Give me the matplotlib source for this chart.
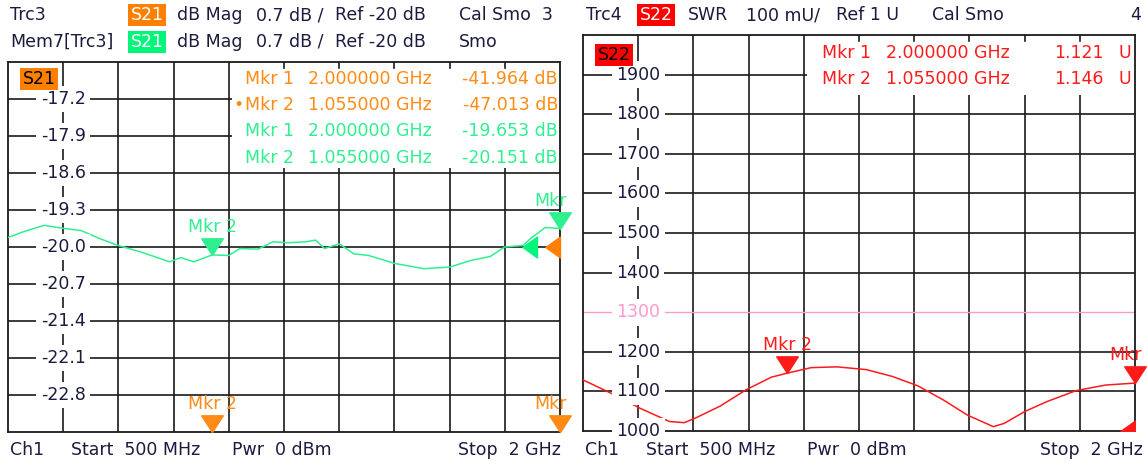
import numpy as np
import matplotlib.pyplot as plt
import matplotlib.patches as mpatches
from matplotlib.path import Path
from matplotlib.transforms import offset_copy

plt.rcParams['font.family'] = ['DejaVu Sans']

W, H = 1147, 466
FS = 12.5

# Mem7[Trc3] S21 trace (GHz, dB)
mem7_freq = [0.5, 0.538, 0.598, 0.653, 0.699, 0.749, 0.799, 0.859, 0.939, 0.97, 1.005,
             1.055, 1.1, 1.13, 1.18, 1.22, 1.26, 1.31, 1.336, 1.36, 1.40, 1.44, 1.48,
             1.55, 1.63, 1.70, 1.76, 1.81, 1.85, 1.90, 1.92, 1.96, 2.0]
mem7_db = [-19.82, -19.72, -19.59, -19.65, -19.69, -19.84, -19.97, -20.09, -20.28, -20.20, -20.28,
           -20.15, -20.16, -20.03, -20.04, -19.90, -19.92, -19.90, -19.87, -20.03, -19.94, -20.13, -20.16,
           -20.31, -20.41, -20.38, -20.25, -20.18, -20.00, -19.97, -19.84, -19.63, -19.65]

# Trc4 S22 SWR trace (GHz, mU)
trc4_freq = [0.5, 0.577, 0.656, 0.735, 0.775, 0.804, 0.873, 0.943, 1.012, 1.055, 1.12, 1.19,
             1.27, 1.34, 1.41, 1.48, 1.545, 1.615, 1.644, 1.70, 1.76, 1.84, 1.92, 2.0]
trc4_mu = [1129, 1095, 1057, 1024, 1021, 1032, 1063, 1104, 1136, 1146, 1160, 1162,
           1155, 1138, 1114, 1078, 1040, 1011, 1019, 1049, 1074, 1102, 1116, 1121]

# markers
mkr_names = ['Mkr 1', 'Mkr 2']
mkr_freq = [2.0, 1.055]
trc3_mkr_db = [-41.964, -47.013]
mem7_mkr_db = [-19.653, -20.151]
trc4_mkr_u = [1.121, 1.146]

s21_ylim = (-23.5, -16.5)
s21_labels = [-17.2, -17.9, -18.6, -19.3, -20.0, -20.7, -21.4, -22.1, -22.8]
s22_ylim = (1000, 2000)
s22_labels = [1900, 1800, 1700, 1600, 1500, 1400, 1300, 1200, 1100, 1000]
limit_line = 1300

TXT = '#1b1b3f'
ORANGE = '#ff8a14'
ORANGE_BG = '#ff7f00'
GREEN = '#2ff090'
GREEN_BG = '#00f57a'
RED = '#ff1a1a'
PINK = '#ff99cc'
GRID = '#1a1a1a'

tri_down = Path([(0, 0), (-1.1, 1.7), (1.1, 1.7), (0, 0)],
                [Path.MOVETO, Path.LINETO, Path.LINETO, Path.CLOSEPOLY])
tri_left = Path([(0, 1), (0, -1), (-1.4, 0), (0, 1)],
                [Path.MOVETO, Path.LINETO, Path.LINETO, Path.CLOSEPOLY])

fig = plt.figure(figsize=(W / 100, H / 100), dpi=100)


def ftext(x, y, s, **kw):
    kw.setdefault('color', TXT)
    kw.setdefault('fontsize', FS)
    kw.setdefault('va', 'center')
    return fig.text(x / W, 1 - y / H, s, **kw)


def tag(x, y, s, bg, fg):
    ftext(x, y, s, color=fg, ha='center',
          bbox=dict(facecolor=bg, edgecolor='none', boxstyle='square,pad=0.12'))


def setup(ax, ylim, skip=None):
    ax.set_xlim(0.5, 2.0)
    ax.set_ylim(*ylim)
    ax.set_xticks([])
    ax.set_yticks([])
    for s in ax.spines.values():
        s.set_linewidth(1.3)
        s.set_color(GRID)
    for x in np.linspace(0.5, 2.0, 11)[1:-1]:
        ax.axvline(x, color=GRID, lw=1.2, zorder=1)
    for y in np.linspace(ylim[0], ylim[1], 11)[1:-1]:
        if skip is not None and abs(y - skip) < 1e-6:
            continue
        ax.axhline(y, color=GRID, lw=1.2, zorder=1)


def ylabels(ax, vals, fmt):
    for v in vals:
        c = PINK if (ax is ax2 and v == limit_line) else TXT
        ax.text(0.65, v, fmt % v, ha='center', va='center', fontsize=FS, color=c, zorder=4,
                bbox=dict(facecolor='white', edgecolor='none', boxstyle='square,pad=0.25'))


def info_box(ax, height):
    # marker readout area hides the grid underneath
    ax.add_patch(mpatches.Rectangle((0.405, 1 - height), 0.6, height, transform=ax.transAxes,
                                    facecolor='white', edgecolor='none', zorder=2))
    tick = 6 / ax.bbox.height
    for x in np.linspace(0.5, 2.0, 11)[5:-1]:
        ax.plot([x, x], [1, 1 - tick], transform=ax.get_xaxis_transform(),
                color=GRID, lw=1.2, zorder=2.5)


def marker(ax, x, y, label, color):
    ax.plot([x], [y], marker=tri_down, ms=24, color=color, mec=color, clip_on=False, zorder=5)
    if x >= ax.get_xlim()[1]:
        # label runs off the right edge of the diagram, only "Mkr" shows
        ax.annotate(label.split()[0], xy=(x, y), xytext=(5, 16.5), textcoords='offset points',
                    ha='right', va='baseline', fontsize=FS, color=color, zorder=5,
                    annotation_clip=False)
    else:
        ax.annotate(label, xy=(x, y), xytext=(0, 16.5), textcoords='offset points',
                    ha='center', va='baseline', fontsize=FS, color=color, zorder=5,
                    annotation_clip=False)


# ---------------- left: S21 ----------------
ax1 = fig.add_axes([8 / W, 1 - 432 / H, 552 / W, 370 / H])
setup(ax1, s21_ylim)
info_box(ax1, 0.286)
ax2 = None
ylabels(ax1, s21_labels, '%.1f')
ax1.plot(mem7_freq, mem7_db, color=GREEN, lw=1.1, zorder=3)

# off-scale Trc3 markers sit on the bottom edge
for name, f in zip(mkr_names, mkr_freq):
    marker(ax1, f, s21_ylim[0], name, ORANGE)
for name, f, v in zip(mkr_names, mkr_freq, mem7_mkr_db):
    marker(ax1, f, v, name, GREEN)

ax1.plot([2.0], [-20.0], marker=tri_left, ms=21, color=ORANGE_BG, clip_on=False, zorder=5)
ax1.plot([2.0], [-20.0], marker=tri_left, ms=21, color=GREEN_BG, clip_on=False, zorder=5,
         transform=offset_copy(ax1.transData, fig, x=-23 * 0.72, units='points'))

# ---------------- right: S22 ----------------
ax2 = fig.add_axes([583 / W, 1 - 431 / H, 552 / W, 396 / H])
setup(ax2, s22_ylim, skip=limit_line)
ax2.axhline(limit_line, color=PINK, lw=1.0, zorder=1.5)
info_box(ax2, 0.152)
ylabels(ax2, s22_labels, '%d')
ax2.plot(trc4_freq, trc4_mu, color=RED, lw=1.1, zorder=3)
for name, f, v in zip(mkr_names, mkr_freq, trc4_mkr_u):
    marker(ax2, f, v * 1000, name, RED)
ax2.plot([2.0], [s22_ylim[0]], marker=tri_left, ms=21, color=RED, clip_on=True, zorder=5)

# ---------------- headers ----------------
ftext(10, 15, 'Trc3')
tag(147, 15, 'S21', ORANGE_BG, 'white')
ftext(177, 15, 'dB Mag')
ftext(256, 15, '0.7 dB /')
ftext(335, 15, 'Ref -20 dB')
ftext(459, 15, 'Cal Smo  3')
ftext(10, 42, 'Mem7[Trc3]')
tag(147, 42, 'S21', GREEN_BG, 'white')
ftext(177, 42, 'dB Mag')
ftext(256, 42, '0.7 dB /')
ftext(335, 42, 'Ref -20 dB')
ftext(459, 42, 'Smo')

ftext(586, 15, 'Trc4')
tag(656, 15, 'S22', '#ff0000', 'white')
ftext(688, 15, 'SWR')
ftext(746, 15, '100 mU/')
ftext(836, 15, 'Ref 1 U')
ftext(932, 15, 'Cal Smo')
ftext(1141, 15, '4', ha='right')

# trace tags in plot area
tag(39, 79, 'S21', ORANGE_BG, 'black')
tag(614, 55, 'S22', '#ff0000', 'black')

# marker readouts
rows = [(79, '', ORANGE, trc3_mkr_db[0], 0), (105, '\u2022', ORANGE, trc3_mkr_db[1], 1),
        (131, '', GREEN, mem7_mkr_db[0], 0), (158, '', GREEN, mem7_mkr_db[1], 1)]
for y, bullet, c, v, i in rows:
    if bullet:
        ftext(239, y, bullet, color=c, ha='center')
    ftext(245, y, mkr_names[i], color=c)
    ftext(308, y, '%.6f GHz' % mkr_freq[i], color=c)
    ftext(558, y, '%.3f dB' % v, color=c, ha='right')
for y, i in [(53, 0), (79, 1)]:
    ftext(822, y, mkr_names[i], color=RED)
    ftext(886, y, '%.6f GHz' % mkr_freq[i], color=RED)
    ftext(1104, y, '%.3f' % trc4_mkr_u[i], color=RED, ha='right')
    ftext(1119, y, 'U', color=RED)

# ---------------- footers ----------------
for x0 in (10, 585):
    ftext(x0, 450, 'Ch1')
    ftext(x0 + 61, 450, 'Start  500 MHz')
    ftext(x0 + 222, 450, 'Pwr  0 dBm')
ftext(561, 450, 'Stop  2 GHz', ha='right')
ftext(1143, 450, 'Stop  2 GHz', ha='right')

fig.savefig('out.png', dpi=100)
